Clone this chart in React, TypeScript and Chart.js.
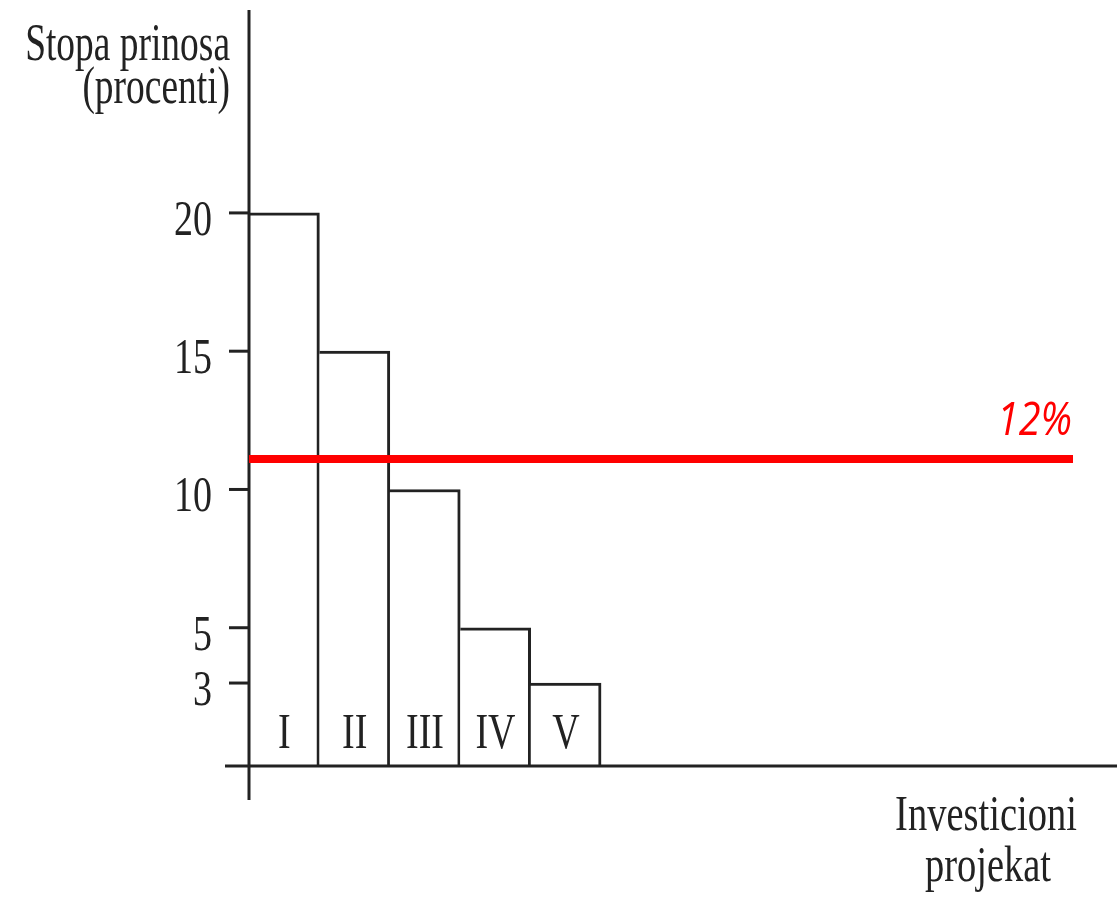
import React, { useEffect, useRef } from 'react';
import { Chart, registerables } from 'chart.js';

Chart.register(...registerables);

// chart data
const categories = ['I', 'II', 'III', 'IV', 'V', '', '', '', '', '', '', ''];
const returnRates = [20, 15, 10, 5, 3];
const yTicks = [3, 5, 10, 15, 20];
const cutoffRate = 11.1;
const cutoffLabel = '12%';
const yTitle = ['Stopa prinosa', '(procenti)'];
const xTitle = ['Investicioni', 'projekat'];

const INK = '#222';
const SERIF = '"Liberation Serif", "Times New Roman", serif';

function drawText(
    ctx: CanvasRenderingContext2D,
    text: string,
    x: number,
    y: number,
    font: string,
    align: CanvasTextAlign,
    sx: number,
    color = INK
) {
    ctx.save();
    ctx.translate(x, y);
    ctx.scale(sx, 1);
    ctx.font = font;
    ctx.fillStyle = color;
    ctx.textAlign = align;
    ctx.textBaseline = 'alphabetic';
    ctx.fillText(text, 0, 0);
    ctx.restore();
}

// draws axes, ticks, titles, bar labels and the cut-off line
const decorations = {
    id: 'decorations',
    afterDraw(chart: Chart) {
        const { ctx, chartArea } = chart;
        const yScale = chart.scales.y;
        const ax = chartArea.left;
        const ay = yScale.getPixelForValue(0);
        const textFont = `50px ${SERIF}`;

        ctx.save();
        ctx.strokeStyle = INK;
        ctx.lineWidth = 3;
        ctx.lineCap = 'butt';

        // y axis
        ctx.beginPath();
        ctx.moveTo(ax, chartArea.top - 37);
        ctx.lineTo(ax, ay + 34);
        ctx.stroke();

        // x axis
        ctx.beginPath();
        ctx.moveTo(ax - 24, ay);
        ctx.lineTo(chart.width, ay);
        ctx.stroke();

        // y ticks
        yTicks.forEach((v) => {
            const py = yScale.getPixelForValue(v);
            ctx.beginPath();
            ctx.moveTo(ax - 20, py);
            ctx.lineTo(ax, py);
            ctx.stroke();
            drawText(ctx, String(v), ax - 37, py + 22, textFont, 'right', 0.76);
        });

        // bar labels
        const meta = chart.getDatasetMeta(0);
        meta.data.forEach((bar, i) => {
            drawText(ctx, categories[i], bar.x, ay - 18, textFont, 'center', 0.76);
        });

        // axis titles
        drawText(ctx, yTitle[0], ax - 19, 60, `52px ${SERIF}`, 'right', 0.72);
        drawText(ctx, yTitle[1], ax - 19, 103, `52px ${SERIF}`, 'right', 0.72);
        drawText(ctx, xTitle[0], 986, ay + 64, textFont, 'center', 0.77);
        drawText(ctx, xTitle[1], 988, ay + 115, textFont, 'center', 0.77);

        // cut-off rate line
        const cy = yScale.getPixelForValue(cutoffRate);
        ctx.strokeStyle = '#ff0000';
        ctx.lineWidth = 8;
        ctx.beginPath();
        ctx.moveTo(ax, cy);
        ctx.lineTo(chartArea.right - 21, cy);
        ctx.stroke();
        drawText(ctx, cutoffLabel, chartArea.right - 22, cy - 24, `italic 46px "Open Sans", sans-serif`, 'right', 0.86, '#ff0000');

        ctx.restore();
    },
};

export default function App() {
    const canvasRef = useRef<HTMLCanvasElement>(null);
    const chartRef = useRef<Chart | null>(null);

    useEffect(() => {
        const ctx = canvasRef.current?.getContext('2d');
        if (!ctx) return;

        if (chartRef.current) {
            chartRef.current.destroy();
        }

        chartRef.current = new Chart(ctx, {
            type: 'bar',
            data: {
                labels: categories,
                datasets: [{
                    label: 'Stopa prinosa',
                    data: returnRates,
                    backgroundColor: '#ffffff',
                    borderColor: INK,
                    borderWidth: { top: 3, right: 3, left: 0, bottom: 0 },
                    borderSkipped: false,
                    barPercentage: 1,
                    categoryPercentage: 1,
                }]
            },
            options: {
                responsive: false,
                animation: false,
                devicePixelRatio: 1,
                layout: {
                    padding: { left: 249, right: 23, top: 47, bottom: 133 }
                },
                scales: {
                    x: { display: false },
                    y: { display: false, min: 0, max: 26 }
                },
                plugins: {
                    legend: { display: false },
                    tooltip: { enabled: false }
                }
            },
            plugins: [decorations]
        });

        return () => {
            if (chartRef.current) {
                chartRef.current.destroy();
                chartRef.current = null;
            }
        };
    }, []);

    return (
        <div style={{ position: 'fixed', left: 0, top: 0, width: 1117, height: 899, background: '#fff' }}>
            <canvas ref={canvasRef} width={1117} height={899}></canvas>
        </div>
    );
}
